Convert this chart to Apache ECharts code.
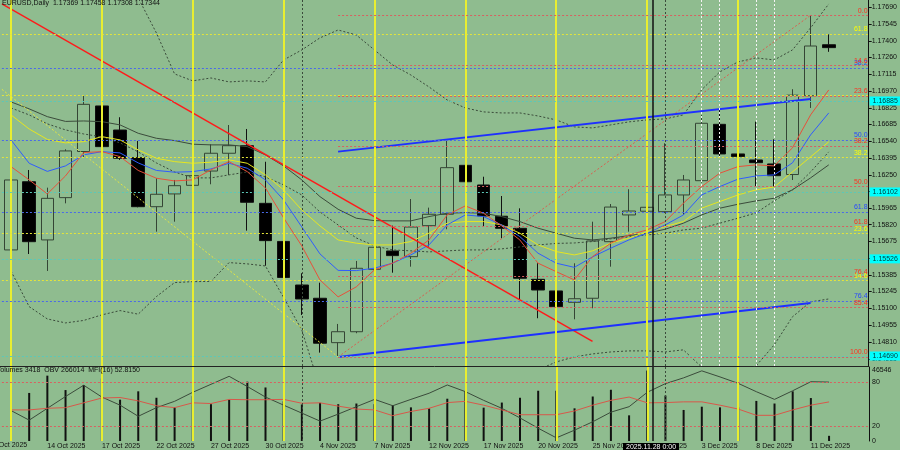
<!DOCTYPE html>
<html><head><meta charset="utf-8">
<script src="https://cdn.jsdelivr.net/npm/echarts@6/dist/echarts.min.js"></script>
<style>html,body{margin:0;padding:0;background:#8fbc8f}#c{width:900px;height:450px}</style>
</head><body><div id="c"></div>
<script>
const symbol = 'EURUSD,Daily';
const prevDate = '9 Oct 2025';
const dates = ['10 Oct 2025','13 Oct 2025','14 Oct 2025','15 Oct 2025','16 Oct 2025','17 Oct 2025','20 Oct 2025','21 Oct 2025','22 Oct 2025','23 Oct 2025','24 Oct 2025','27 Oct 2025','28 Oct 2025','29 Oct 2025','30 Oct 2025','31 Oct 2025','3 Nov 2025','4 Nov 2025','5 Nov 2025','6 Nov 2025','7 Nov 2025','10 Nov 2025','11 Nov 2025','12 Nov 2025','13 Nov 2025','14 Nov 2025','17 Nov 2025','18 Nov 2025','19 Nov 2025','20 Nov 2025','21 Nov 2025','24 Nov 2025','25 Nov 2025','26 Nov 2025','27 Nov 2025','28 Nov 2025','1 Dec 2025','2 Dec 2025','3 Dec 2025','4 Dec 2025','5 Dec 2025','8 Dec 2025','9 Dec 2025','10 Dec 2025','11 Dec 2025','12 Dec 2025','',''];
// daily candles, 10 Oct 2025 .. 12 Dec 2025
const open  = [1.15603,1.16190,1.15689,1.16053,1.16450,1.16842,1.16635,1.16397,1.15975,1.16085,1.16159,1.16282,1.16435,1.16500,1.16004,1.15676,1.15301,1.15187,1.14805,1.14899,1.15436,1.15594,1.15545,1.15812,1.15910,1.16331,1.16162,1.15893,1.15789,1.15350,1.15250,1.15152,1.15187,1.15674,1.15904,1.15936,1.15932,1.16076,1.16199,1.16684,1.16429,1.16377,1.16343,1.16252,1.16930,1.17369];
const high  = [1.16300,1.16291,1.16139,1.16469,1.16936,1.17272,1.16745,1.16541,1.16220,1.16205,1.16521,1.16512,1.16678,1.16644,1.16362,1.15766,1.15402,1.15321,1.14966,1.15508,1.15884,1.15812,1.16041,1.15967,1.16555,1.16529,1.16233,1.16067,1.15961,1.15488,1.15508,1.15488,1.15846,1.15998,1.16125,1.16067,1.16521,1.16248,1.16764,1.16807,1.16707,1.16707,1.16555,1.16986,1.17622,1.17458];
const low   = [1.15542,1.15568,1.15422,1.16004,1.16403,1.16478,1.16377,1.15970,1.15760,1.15846,1.15998,1.16168,1.16248,1.15769,1.15467,1.15198,1.15043,1.14719,1.14682,1.14886,1.15287,1.15407,1.15459,1.15631,1.15781,1.16047,1.15809,1.15703,1.15172,1.15015,1.14905,1.15006,1.15101,1.15459,1.15760,1.15542,1.15921,1.15904,1.16182,1.16406,1.16278,1.16153,1.16147,1.16205,1.16825,1.17308];
const close = [1.16205,1.15674,1.16047,1.16455,1.16856,1.16492,1.16392,1.15975,1.16082,1.16156,1.16242,1.16435,1.16500,1.16013,1.15683,1.15366,1.15181,1.14800,1.14899,1.15445,1.15626,1.15554,1.15800,1.15910,1.16311,1.16190,1.15895,1.15789,1.15359,1.15258,1.15115,1.15183,1.15680,1.15972,1.15938,1.15970,1.16076,1.16205,1.16693,1.16429,1.16406,1.16354,1.16242,1.16935,1.17358,1.17344];
// moving averages and bands
const maRed    = [1.16320,1.16206,1.16085,1.16240,1.16441,1.16449,1.16406,1.16287,1.16220,1.16197,1.16206,1.16292,1.16363,1.16277,1.16137,1.15879,1.15638,1.15345,1.15199,1.15285,1.15431,1.15489,1.15575,1.15689,1.15904,1.15982,1.15919,1.15810,1.15689,1.15489,1.15416,1.15345,1.15545,1.15661,1.15732,1.15775,1.15847,1.16005,1.16148,1.16263,1.16320,1.16335,1.16326,1.16481,1.16765,1.16980];
const maBlue   = [1.16550,1.16349,1.16279,1.16326,1.16421,1.16449,1.16438,1.16352,1.16287,1.16272,1.16277,1.16300,1.16349,1.16306,1.16206,1.16033,1.15801,1.15569,1.15427,1.15425,1.15446,1.15489,1.15560,1.15646,1.15818,1.15904,1.15890,1.15818,1.15718,1.15575,1.15489,1.15453,1.15543,1.15618,1.15689,1.15747,1.15818,1.15904,1.16076,1.16148,1.16212,1.16240,1.16249,1.16352,1.16593,1.16782];
const maYellow = [1.16765,1.16644,1.16554,1.16524,1.16535,1.16578,1.16550,1.16464,1.16392,1.16363,1.16349,1.16358,1.16378,1.16349,1.16249,1.16120,1.15947,1.15810,1.15689,1.15661,1.15646,1.15646,1.15675,1.15747,1.15833,1.15847,1.15847,1.15818,1.15747,1.15646,1.15589,1.15560,1.15595,1.15661,1.15704,1.15761,1.15804,1.15847,1.15962,1.16019,1.16076,1.16120,1.16145,1.16274,1.16404,1.16533];
const maGray   = [1.16877,1.16817,1.16750,1.16709,1.16713,1.16707,1.16679,1.16607,1.16564,1.16544,1.16513,1.16507,1.16507,1.16492,1.16421,1.16326,1.16206,1.16062,1.15953,1.15876,1.15855,1.15853,1.15853,1.15890,1.15919,1.15924,1.15919,1.15890,1.15847,1.15790,1.15747,1.15704,1.15689,1.15704,1.15726,1.15747,1.15781,1.15833,1.15904,1.15962,1.15996,1.16025,1.16048,1.16120,1.16223,1.16335];
const bbMid    = [1.16825,1.16765,1.16688,1.16636,1.16601,1.16576,1.16524,1.16447,1.16352,1.16274,1.16223,1.16223,1.16249,1.16274,1.16231,1.16163,1.16076,1.15930,1.15818,1.15706,1.15638,1.15603,1.15595,1.15586,1.15595,1.15603,1.15603,1.15612,1.15629,1.15646,1.15659,1.15663,1.15675,1.15698,1.15715,1.15732,1.15747,1.15775,1.15790,1.15833,1.15876,1.15922,1.16025,1.16120,1.16274,1.16447];
const bbUpper  = [1.18228,1.18409,1.18366,1.18297,1.18202,1.18107,1.17970,1.17772,1.17471,1.17118,1.17058,1.17083,1.17049,1.17058,1.17049,1.17238,1.17324,1.17428,1.17496,1.17453,1.17324,1.17195,1.17109,1.17006,1.16894,1.16825,1.16791,1.16782,1.16782,1.16756,1.16722,1.16662,1.16653,1.16679,1.16705,1.16722,1.16731,1.16765,1.16980,1.17135,1.17221,1.17256,1.17238,1.17324,1.17514,1.17720];
const bbLower  = [1.15422,1.15115,1.15009,1.14975,1.14996,1.15044,1.15081,1.15050,1.15201,1.15322,1.15330,1.15332,1.15494,1.15483,1.15465,1.15194,1.14915,1.14416,1.14140,1.13968,1.13925,1.13968,1.14054,1.14175,1.14295,1.14381,1.14416,1.14441,1.14484,1.14570,1.14639,1.14682,1.14708,1.14725,1.14734,1.14734,1.14725,1.14743,1.14596,1.14502,1.14527,1.14605,1.14786,1.15027,1.15156,1.15181];
// lower window
const volume = [35370,31750,43180,33655,37020,41275,27305,32830,28575,22225,29655,24320,27305,39180,35370,26225,24130,25210,24320,24765,24320,23685,22225,21590,27940,32830,22035,25400,28575,33210,33210,21590,29400,33845,16955,46546,30035,20510,22670,22225,22225,26480,24765,32830,28385,3418];
const mfi = [42.0,42.0,44.2,45.1,51.6,58.1,58.8,54.2,47.7,45.1,51.6,50.6,56.2,55.8,55.8,56.2,51.0,51.6,47.1,43.2,42.0,34.2,39.9,44.2,51.9,53.6,48.4,42.0,35.5,35.5,35.5,40.6,48.4,54.9,59.4,51.6,51.9,52.9,52.9,48.4,43.2,34.7,34.7,42.0,48.4,52.815];
const obv = [171300,139300,178650,218000,255450,216100,189200,152100,180900,202000,232100,258650,285200,251300,216100,189200,162650,136100,159450,184100,208400,187300,208400,228900,256400,234000,205200,178650,146650,112400,80400,106000,133850,165850,184100,232100,260900,280100,303450,283300,261850,234000,208400,237200,267300,266014];
// axis tick labels
const priceTicks = [1.14665,1.14810,1.14955,1.15100,1.15245,1.15385,1.15530,1.15675,1.15820,1.15965,1.16105,1.16250,1.16395,1.16540,1.16685,1.16825,1.16970,1.17115,1.17260,1.17400,1.17545,1.17690];
const volTicks = [46546];
const mfiTicks = [0,20,80];
// drawn objects (bar index, price)
const redTrend = [[-0.5,1.17720],[32,1.14816]];
const yellowTrend = [[-0.5,1.16985],[18,1.14682]];
const channelUpper = [[18,1.16449],[44,1.16902]];
const channelLower = [[18,1.14682],[44,1.15147]];
const fibDiag = [[18,1.14682],[44,1.17622]];
const redFib = {p0:1.17622, p100:1.14682, from:18, levels:[0,14.6,23.6,38.2,50,61.8,76.4,85.4,100]};
const blueFib = {p0:1.19173, p100:1.13927, from:-0.5, levels:[38.2,50,61.8,76.4]};
const yellowFib = {p0:1.14682, p100:1.19180, from:-0.5, levels:[14.6,23.6,38.2,50,61.8]};
const hLines = [1.16885,1.16102,1.15526,1.14690];
const yellowV = [0,5,10,15,20,25,30,35,40];
const whiteV = [38,39,41,42];
const grayV = [16,36];
const crossV = 35.3;

const PMIN = 1.14604, PMAX = 1.17754;
const XEND = 47.19;
const FONT = 'Liberation Sans';
const bg = '#8fbc8f';

const xy = a => a.map((v,i)=>[i,v]);
const fibPrice = (f,r) => f.p0 + (f.p100 - f.p0) * r / 100;
function fibItems(f, color, labelColor, noLabel) {
  return f.levels.map(r => {
    const p = fibPrice(f, r);
    return [{coord:[f.from,p], lineStyle:{color:color,type:[2,2],width:1},
      label:{show: !(noLabel||[]).includes(r), formatter: r.toFixed(1), color: labelColor, position:'insideEndTop', distance:1, fontSize:7, fontFamily:FONT}},
      {coord:[XEND,p]}];
  });
}
const mainMarks = [].concat(
  fibItems(blueFib,'#4a6ae8','#2848ff'),
  fibItems(yellowFib,'#e4e43a','#ffff00',[50]),
  fibItems(redFib,'#d86060','#ff3020'),
  hLines.map(p => [{coord:[-0.5,p], lineStyle:{color:'#5cc8b8',type:[2,2],width:1},
    label:{show:true, position:'end', distance:1, formatter:p.toFixed(5), backgroundColor:'#00ffff', color:'#004040', fontSize:7, fontFamily:FONT, padding:[1,3]}},{coord:[XEND,p]}]),
  [[{coord:[45,close[45]], lineStyle:{opacity:0},
    label:{show:true, position:'end', distance:1, formatter:close[45].toFixed(5), backgroundColor:'#000', color:'#fff', fontSize:7, fontFamily:FONT, padding:[1,3]}},{coord:[XEND,close[45]]}]]
);
const vMain = [].concat(
  yellowV.map(b=>({xAxis:b, lineStyle:{color:'#e8ee30',width:2,type:'solid'}})),
  whiteV.map(b=>({xAxis:b, lineStyle:{color:'#f4f4f4',width:1,type:[2,2]}})),
  grayV.map(b=>({xAxis:b, lineStyle:{color:'#3b4b3b',width:1,type:[2,2]}})),
  [{xAxis:crossV, lineStyle:{color:'#111',width:1.5,type:'solid'}}]
);
const vLow = [].concat(
  yellowV.map(b=>({xAxis:b, lineStyle:{color:'#e8ee30',width:2,type:'solid'}})),
  grayV.map(b=>({xAxis:b, lineStyle:{color:'#3b4b3b',width:1,type:[2,2]}})),
  [{xAxis:crossV, lineStyle:{color:'#111',width:1.5,type:'solid'}}]
);

const candles = open.map((o,i)=>[o, close[i], low[i], high[i]]);

function lineS(name, data, color, type, width, xi, yi) {
  return {name, type:'line', xAxisIndex:xi===undefined?2:xi, yAxisIndex:yi===undefined?0:yi, data, symbol:'none',
    lineStyle:{color, type:type||'solid', width:width||1}, silent:true, clip:true};
}
const noZero = {onZero:false};

const chart = echarts.init(document.getElementById('c'));
chart.setOption({
  animation:false,
  backgroundColor:bg,
  grid:[
    {left:1.91, right:25.5, top:0, height:366},
    {left:1.91, right:25.5, top:367, height:77}
  ],
  xAxis:[
    {type:'category', gridIndex:0, data:dates, boundaryGap:true, axisLine:{show:false, onZero:false}, axisTick:{show:false}, axisLabel:{show:false}},
    {type:'category', gridIndex:1, data:dates, boundaryGap:true, axisLine:{show:false, onZero:false}, axisTick:{show:false},
      axisLabel:{interval:(i)=>i%3===2, align:'left', fontSize:7, color:'#111', margin:2, fontFamily:FONT}},
    {type:'value', gridIndex:0, min:-0.5, max:47.5, show:false, axisLine:{show:false, onZero:false}},
    {type:'value', gridIndex:1, min:-0.5, max:47.5, show:false, axisLine:{show:false, onZero:false}}
  ],
  yAxis:[
    {type:'value', gridIndex:0, position:'right', offset:-5.5, min:PMIN, max:PMAX, splitLine:{show:false},
      axisLine:{show:true, onZero:false, lineStyle:{color:'#111'}},
      axisTick:{show:true, customValues:priceTicks, length:3, lineStyle:{color:'#111'}},
      axisLabel:{customValues:priceTicks, formatter:v=>v.toFixed(5), fontSize:7, color:'#111', margin:3, fontFamily:FONT}},
    {type:'value', gridIndex:1, position:'right', offset:-5.5, min:0, max:48900, splitLine:{show:false},
      axisLine:{show:true, onZero:false, lineStyle:{color:'#111'}}, axisTick:{show:false},
      axisLabel:{customValues:volTicks, formatter:v=>String(v), fontSize:7, color:'#111', margin:3, fontFamily:FONT}},
    {type:'value', gridIndex:1, position:'right', offset:-5.5, min:0, max:100, splitLine:{show:false},
      axisLine:{show:false, onZero:false}, axisTick:{show:false},
      axisLabel:{customValues:mfiTicks, formatter:v=>String(v), fontSize:7, color:'#111', margin:3, fontFamily:FONT}},
    {type:'value', gridIndex:1, min:69850, max:316250, show:false, axisLine:{show:false, onZero:false}}
  ],
  series:[
    {type:'line', xAxisIndex:2, yAxisIndex:0, data:[], silent:true, clip:false,
      markLine:{symbol:['none','none'], silent:true, label:{show:false}, data:vMain}},
    {type:'line', xAxisIndex:2, yAxisIndex:0, data:[], silent:true, clip:false,
      markLine:{symbol:['none','none'], silent:true, data:mainMarks}},
    {type:'candlestick', xAxisIndex:0, yAxisIndex:0, data:candles, barWidth:13, silent:true,
      itemStyle:{color:bg, color0:'#000', borderColor:'#354535', borderColor0:'#111', borderWidth:1}},
    lineS('bbUpper', xy(bbUpper), '#3b4b3b', [2,2]),
    lineS('bbLower', xy(bbLower), '#3b4b3b', [2,2]),
    lineS('bbMid', xy(bbMid), '#3b4b3b', [2,2]),
    lineS('maGray', xy(maGray), '#3b4b3b'),
    lineS('maYellow', xy(maYellow), '#e6e620'),
    lineS('maBlue', xy(maBlue), '#2f5cff'),
    lineS('maRed', xy(maRed), '#e8503a'),
    lineS('yellowTrend', yellowTrend, '#e6e640', [2,2]),
    lineS('fibDiag', fibDiag, '#d86050', [2,2]),
    lineS('redTrend', redTrend, '#ff1a1a', 'solid', 1.5),
    lineS('channelUpper', channelUpper, '#1e30ff', 'solid', 2),
    lineS('channelLower', channelLower, '#1e30ff', 'solid', 2),
    {type:'line', xAxisIndex:3, yAxisIndex:2, data:[], silent:true, clip:false,
      markLine:{symbol:['none','none'], silent:true, label:{show:false}, data:vLow.concat(
        [20,80].map(v=>[{coord:[-0.5,v], lineStyle:{color:'#d86060',type:[2,2],width:1}},{coord:[XEND,v]}]))}},
    {type:'bar', xAxisIndex:1, yAxisIndex:1, data:volume, barWidth:2, itemStyle:{color:'#111'}, silent:true},
    lineS('obv', xy(obv), '#3b4b3b', 'solid', 1, 3, 3),
    lineS('mfi', xy(mfi), '#d8584a', 'solid', 1, 3, 2)
  ],
  graphic:[
    {type:'line', shape:{x1:0,y1:366.5,x2:869,y2:366.5}, style:{stroke:'#222',lineWidth:1}, silent:true},
    {type:'text', left:2, top:0, z:100, style:{text:`${symbol}  ${open[45].toFixed(5)} ${high[45].toFixed(5)} ${low[45].toFixed(5)} ${close[45].toFixed(5)}`, fontSize:7, fill:'#111', fontFamily:FONT}},
    {type:'text', left:-4, top:367, z:100, style:{text:`Volumes ${volume[45]}  OBV ${obv[45]}  MFI(16) ${mfi[45].toFixed(4)}`, fontSize:7, fill:'#111', fontFamily:FONT}},
    {type:'text', left:-7, top:442, z:100, style:{text:prevDate, fontSize:7, fill:'#111', fontFamily:FONT}},
    {type:'text', left:623, top:443, z:100, style:{text:'2025.11.28 0:00', fontSize:7, fill:'#fff', fontFamily:FONT, backgroundColor:'#000', padding:[1,3]}}
  ]
});
</script></body></html>
